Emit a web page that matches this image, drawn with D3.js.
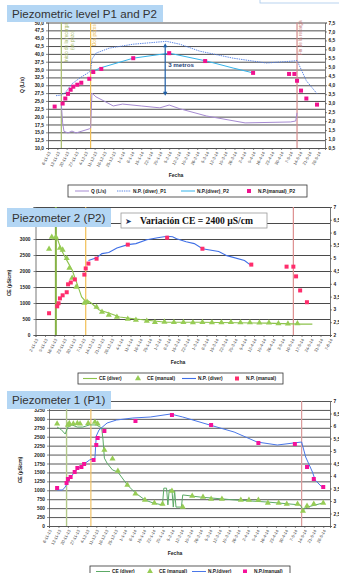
<!DOCTYPE html>
<html>
<head>
<meta charset="utf-8">
<script src="https://cdn.jsdelivr.net/npm/d3@7"></script>
<style>
  body { margin: 0; background: #fff; }
  svg { display: block; font-family: "Liberation Sans", Arial, sans-serif; }
</style>
</head>
<body>
<svg id="c" width="339" height="573"></svg>
<script>
const parse = d3.timeParse("%d-%m-%y");
const fmtDate = d3.timeFormat("%-d-%-m-%y");

// ---- chart 1 : Piezometric level P1 and P2 ----
const events1 = ["16-11-13", "8-12-13", "12-5-14"];
const q1 = [["16-11-13", 24], ["17-11-13", 18], ["18-11-13", 15.3], ["21-11-13", 14.8], ["24-11-13", 15.4],
  ["27-11-13", 14.8], ["7-12-13", 16.1], ["8-12-13", 16.4], ["9-12-13", 27.5], ["12-12-13", 26.3],
  ["18-12-13", 25], ["25-12-13", 23.4], ["1-1-14", 24], ["15-1-14", 23.4], ["29-1-14", 22.8],
  ["5-2-14", 23.7], ["13-2-14", 22.5], ["5-3-14", 20.2], ["3-4-14", 18], ["7-5-14", 18.3],
  ["11-5-14", 18.6], ["12-5-14", 21.2]];
const npDiverP1 = [["12-11-13", 3.42], ["16-11-13", 3.45], ["19-11-13", 3.59], ["24-11-13", 4.08],
  ["30-11-13", 4.41], ["6-12-13", 4.69], ["8-12-13", 4.8], ["9-12-13", 5.46], ["12-12-13", 5.79],
  ["22-12-13", 6.07], ["9-1-14", 6.29], ["3-2-14", 6.45], ["13-2-14", 6.29], ["28-2-14", 5.9],
  ["25-3-14", 5.51], ["19-4-14", 5.24], ["9-5-14", 5.35], ["12-5-14", 5.38], ["19-5-14", 4.25],
  ["27-5-14", 3.53]];
const npDiverP2 = [["8-12-13", 4.7], ["15-12-13", 4.96], ["9-1-14", 5.51], ["5-2-14", 5.79],
  ["5-3-14", 5.35], ["25-3-14", 4.96], ["9-4-14", 4.69]];
const npManualP2 = [["11-11-13", 2.81], ["17-11-13", 2.98], ["19-11-13", 3.26], ["21-11-13", 3.52],
  ["23-11-13", 3.75], ["25-11-13", 3.92], ["28-11-13", 4.03], ["1-12-13", 4.14], ["7-12-13", 4.36],
  ["10-12-13", 4.74], ["16-12-13", 4.91], ["9-1-14", 5.51], ["5-2-14", 5.79], ["4-3-14", 5.35],
  ["9-4-14", 4.69], ["6-5-14", 4.63], ["10-5-14", 4.63], ["12-5-14", 4.25], ["15-5-14", 3.7],
  ["19-5-14", 3.26], ["27-5-14", 2.92]];
const qTicks = d3.range(10, 50.01, 2.5);
const np1Ticks = d3.range(0.5, 7.51, 0.5);

// ---- chart 2 : Piezometer 2 (P2) ----
const events2 = ["17-11-13", "9-12-13", "11-5-14"];
const ceDiver2 = [["14-11-13", 3000], ["18-11-13", 3020], ["21-11-13", 2660], ["25-11-13", 2340],
  ["29-11-13", 2030], ["3-12-13", 1560], ["6-12-13", 1190], ["10-12-13", 1000], ["11-12-13", 1060],
  ["13-12-13", 1000], ["19-12-13", 780], ["26-12-13", 690], ["3-1-14", 560], ["15-1-14", 500],
  ["6-2-14", 400], ["3-3-14", 400], ["21-4-14", 370], ["16-5-14", 340], ["25-5-14", 340]];
const ceManual2 = [["12-11-13", 2690], ["14-11-13", 3060], ["17-11-13", 3060], ["20-11-13", 2720],
  ["22-11-13", 2660], ["25-11-13", 2400], ["27-11-13", 2090], ["29-11-13", 1780], ["2-12-13", 1500],
  ["8-12-13", 1000], ["10-12-13", 1030], ["17-12-13", 875], ["21-12-13", 720], ["26-12-13", 625],
  ["1-1-14", 560], ["9-1-14", 500], ["15-1-14", 470], ["23-1-14", 440], ["29-1-14", 400],
  ["5-2-14", 410], ["12-2-14", 400], ["19-2-14", 400], ["26-2-14", 390], ["5-3-14", 400],
  ["12-3-14", 390], ["19-3-14", 390], ["26-3-14", 400], ["2-4-14", 390], ["9-4-14", 390],
  ["16-4-14", 385], ["23-4-14", 380], ["30-4-14", 360], ["7-5-14", 355], ["14-5-14", 360]];
const npDiver2 = [["11-12-13", 4.91], ["17-12-13", 5.02], ["21-12-13", 5.18], ["26-12-13", 5.22],
  ["1-1-14", 5.4], ["9-1-14", 5.53], ["15-1-14", 5.57], ["23-1-14", 5.72], ["31-1-14", 5.8],
  ["7-2-14", 5.86], ["11-2-14", 5.84], ["14-2-14", 5.76], ["21-2-14", 5.64], ["27-2-14", 5.57],
  ["5-3-14", 5.37], ["17-3-14", 5.26], ["23-3-14", 5.1], ["5-4-14", 4.91], ["9-4-14", 4.75]];
const npManual2 = [["12-11-13", 2.85], ["18-11-13", 3.12], ["19-11-13", 3.24], ["20-11-13", 3.43],
  ["22-11-13", 3.55], ["25-11-13", 3.67], ["26-11-13", 3.98], ["28-11-13", 4.05], ["1-12-13", 4.17],
  ["8-12-13", 4.36], ["9-12-13", 4.6], ["11-12-13", 4.79], ["17-12-13", 4.98], ["9-1-14", 5.53],
  ["7-2-14", 5.8], ["5-3-14", 5.37], ["10-4-14", 4.75], ["6-5-14", 4.67], ["11-5-14", 4.67],
  ["13-5-14", 4.29], ["16-5-14", 3.74], ["21-5-14", 3.28]];
const ce2Ticks = d3.range(0, 4001, 500);
const np2Ticks = d3.range(2, 7.01, 0.5);

// ---- chart 3 : Piezometer 1 (P1) ----
const events3 = ["19-11-13", "7-12-13", "12-5-14"];
const ceDiver3 = [["12-11-13", 2770], ["15-11-13", 2700], ["18-11-13", 2575], ["20-11-13", 2770],
  ["23-11-13", 2830], ["27-11-13", 2770], ["1-12-13", 2770], ["6-12-13", 2830], ["11-12-13", 2830],
  ["15-12-13", 2745], ["16-12-13", 2410], ["17-12-13", 1900], ["19-12-13", 1760], ["23-12-13", 1570],
  ["27-12-13", 1510], ["3-1-14", 1150], ["9-1-14", 925], ["16-1-14", 730], ["22-1-14", 645],
  ["29-1-14", 590], ["30-1-14", 1060], ["1-2-14", 1060], ["2-2-14", 590], ["3-2-14", 1010],
  ["5-2-14", 1010], ["6-2-14", 530], ["7-2-14", 980], ["8-2-14", 530], ["12-2-14", 530],
  ["13-2-14", 870], ["26-2-14", 810], ["23-3-14", 730], ["17-4-14", 670], ["11-5-14", 590],
  ["13-5-14", 450], ["16-5-14", 530], ["28-5-14", 645]];
const ceManual3 = [["12-11-13", 2860], ["20-11-13", 2830], ["21-11-13", 2880], ["24-11-13", 2860],
  ["27-11-13", 2880], ["29-11-13", 2860], ["5-12-13", 2880], ["10-12-13", 2910], ["12-12-13", 2860],
  ["17-12-13", 2130], ["23-12-13", 1880], ["27-12-13", 1540], ["3-1-14", 1150], ["9-1-14", 900],
  ["16-1-14", 730], ["23-1-14", 645], ["29-1-14", 615], ["5-2-14", 980], ["13-2-14", 530],
  ["20-2-14", 840], ["28-2-14", 810], ["6-3-14", 755], ["14-3-14", 755], ["28-3-14", 730],
  ["3-4-14", 730], ["10-4-14", 730], ["17-4-14", 645], ["25-4-14", 645], ["1-5-14", 615],
  ["9-5-14", 615], ["13-5-14", 420], ["16-5-14", 560], ["21-5-14", 615], ["28-5-14", 645]];
const npDiver3 = [["12-11-13", 3.44], ["16-11-13", 3.44], ["18-11-13", 3.56], ["22-11-13", 3.96],
  ["27-11-13", 4.28], ["2-12-13", 4.48], ["6-12-13", 4.64], ["10-12-13", 4.72], ["11-12-13", 5.6],
  ["13-12-13", 5.84], ["19-12-13", 6.12], ["26-12-13", 6.24], ["7-1-14", 6.32], ["20-1-14", 6.36],
  ["4-2-14", 6.48], ["13-2-14", 6.36], ["5-3-14", 6.04], ["23-3-14", 5.76], ["9-4-14", 5.36],
  ["24-4-14", 5.24], ["6-5-14", 5.32], ["12-5-14", 5.36], ["15-5-14", 4.76], ["20-5-14", 4.16],
  ["22-5-14", 3.84], ["27-5-14", 3.56]];
const npManual3 = [["12-11-13", 3.52], ["19-11-13", 3.72], ["20-11-13", 3.88], ["22-11-13", 3.96],
  ["25-11-13", 4.16], ["27-11-13", 4.32], ["30-11-13", 4.36], ["2-12-13", 4.48], ["9-12-13", 4.64],
  ["11-12-13", 5.24], ["12-12-13", 5.52], ["17-12-13", 5.8], ["9-1-14", 6.2], ["5-2-14", 6.44],
  ["6-3-14", 6.04], ["10-4-14", 5.32], ["7-5-14", 5.28], ["16-5-14", 4.36], ["21-5-14", 3.88],
  ["28-5-14", 3.56]];
const ce3Ticks = d3.range(0, 3501, 250);
const np3Ticks = d3.range(2, 7.01, 0.5);

const weeks1 = d3.timeDay.range(parse("6-11-13"), parse("29-5-14"), 7);
const weeks2 = d3.timeDay.range(parse("2-11-13"), parse("8-6-14"), 7);

const svg = d3.select("#c");
const dec1 = v => d3.format(".1f")(v).replace(".", ",");
const dec0 = v => String(v).replace(".", ",");

function drawChart(o) {
  const g = svg.append("g");
  const x = d3.scaleTime().domain([parse(o.x0), parse(o.x1)]).range([o.left, o.right]);
  const yL = d3.scaleLinear().domain(d3.extent(o.leftTicks)).range([o.bottom, o.top]);
  const yR = d3.scaleLinear().domain(d3.extent(o.rightTicks)).range([o.bottom, o.top]);
  const w = o.right - o.left;

  // grid
  g.append("g")
    .attr("transform", `translate(${o.left},0)`)
    .call(d3.axisLeft(yL).tickValues(o.leftTicks).tickSize(-w).tickFormat(""))
    .call(a => a.select(".domain").remove())
    .selectAll("line").attr("stroke", o.grid).attr("stroke-width", o.gridW);

  const style = a => {
    a.attr("font-family", null);
    a.select(".domain").attr("stroke", "#555").attr("stroke-width", 0.8);
    a.selectAll(".tick line").attr("stroke", "#555").attr("stroke-width", 0.7);
    a.selectAll("text").attr("font-size", 4.8).attr("font-weight", "bold").attr("fill", "#222");
  };
  g.append("g").attr("transform", `translate(${o.left},0)`)
    .call(d3.axisLeft(yL).tickValues(o.leftTicks).tickSize(2).tickPadding(o.lPad).tickFormat(o.lFmt))
    .call(style);
  g.append("g").attr("transform", `translate(${o.right},0)`)
    .call(d3.axisRight(yR).tickValues(o.rightTicks).tickSize(2).tickPadding(1.5).tickFormat(o.rFmt))
    .call(style);
  const xa = g.append("g").attr("transform", `translate(0,${o.bottom})`)
    .call(d3.axisBottom(x).tickValues(o.xTicks).tickSize(2).tickFormat(fmtDate))
    .call(style);
  xa.selectAll("text").attr("font-size", 4.2).attr("font-weight", "normal").attr("fill", "#444")
    .attr("y", 0).attr("dy", "0.35em").attr("text-anchor", "end")
    .attr("transform", "translate(1,4) rotate(-62)");

  // event lines
  o.events.forEach((e, i) => {
    g.append("line")
      .attr("x1", x(parse(e))).attr("x2", x(parse(e)))
      .attr("y1", o.top).attr("y2", o.bottom)
      .attr("stroke", o.evColors[i]).attr("stroke-width", o.evW[i]);
  });

  // series
  o.series.forEach(s => {
    const y = s.axis === "r" ? yR : yL;
    const pts = s.data.map(d => [x(parse(d[0])), y(d[1])]);
    if (s.type === "line") {
      g.append("path").attr("d", d3.line()(pts)).attr("fill", "none")
        .attr("stroke", s.color).attr("stroke-width", s.w)
        .attr("stroke-dasharray", s.dash || null);
    } else if (s.type === "sq") {
      g.append("g").selectAll("rect").data(pts).join("rect")
        .attr("x", p => p[0] - 2).attr("y", p => p[1] - 2)
        .attr("width", 4).attr("height", 4).attr("fill", s.color);
    } else {
      g.append("g").selectAll("path").data(pts).join("path")
        .attr("d", d3.symbol(d3.symbolTriangle, 16)())
        .attr("transform", p => `translate(${p[0]},${p[1]})`)
        .attr("fill", s.color);
    }
  });

  // y title and "Fecha"
  g.append("text").attr("transform", `translate(${o.yTitle[0]},${o.yTitle[1]}) rotate(-90)`)
    .attr("text-anchor", "middle").attr("font-size", 5).attr("font-weight", "bold")
    .attr("fill", "#222").text(o.yTitleText);
  g.append("text").attr("x", o.fecha[0]).attr("y", o.fecha[1])
    .attr("text-anchor", "middle").attr("font-size", 5).attr("font-weight", "bold")
    .attr("fill", "#222").text("Fecha");

  // legend
  const L = o.legend;
  g.append("rect").attr("x", L.x).attr("y", L.y).attr("width", L.w).attr("height", L.h)
    .attr("fill", "#fff").attr("stroke", "#333").attr("stroke-width", 0.8);
  const cy = L.y + L.h / 2;
  L.items.forEach(it => {
    const s = o.series[it.s];
    if (s.type === "line") {
      g.append("line").attr("x1", it.x).attr("x2", it.x + 14).attr("y1", cy).attr("y2", cy)
        .attr("stroke", s.color).attr("stroke-width", s.w).attr("stroke-dasharray", s.dash || null);
    } else if (s.type === "sq") {
      g.append("rect").attr("x", it.x + 5).attr("y", cy - 2).attr("width", 4).attr("height", 4)
        .attr("fill", s.color);
    } else {
      g.append("path").attr("d", d3.symbol(d3.symbolTriangle, 16)())
        .attr("transform", `translate(${it.x + 7},${cy})`).attr("fill", s.color);
    }
    g.append("text").attr("x", it.x + 16).attr("y", cy).attr("dy", "0.35em")
      .attr("font-size", 4.8).attr("font-weight", "bold").attr("fill", "#222").text(it.t);
  });
  return { g, x, yL, yR };
}

function titleBox(x, y, w, h, t) {
  svg.append("rect").attr("x", x).attr("y", y).attr("width", w).attr("height", h).attr("fill", "#b3d6f4");
  svg.append("text").attr("x", x + 5).attr("y", y + h / 2).attr("dy", "0.36em")
    .attr("font-size", 11.6).attr("fill", "#333").text(t);
}

// top right stray box
svg.append("rect").attr("x", 260).attr("y", -10).attr("width", 90).attr("height", 13)
  .attr("fill", "#fff").attr("stroke", "#a9c8ea").attr("stroke-width", 0.8);

// ---------- chart 1 ----------
const c1 = drawChart({
  x0: "6-11-13", x1: "2-6-14", left: 48, right: 325, top: 22.5, bottom: 148,
  leftTicks: qTicks, rightTicks: np1Ticks, lFmt: dec1, rFmt: dec1, lPad: 2,
  xTicks: weeks1, grid: "#3a3a3a", gridW: 0.9,
  events: events1, evColors: ["#a7bb6c", "#f1bf55", "#d48a8a"], evW: [1.2, 1.2, 1.2],
  series: [
    { type: "line", data: q1, axis: "l", color: "#a68bd2", w: 1 },
    { type: "line", data: npDiverP1, axis: "r", color: "#4c7be2", w: 0.9, dash: "1.4,0.9" },
    { type: "line", data: npDiverP2, axis: "r", color: "#34b3ea", w: 1 },
    { type: "sq", data: npManualP2, axis: "r", color: "#f0128e" }
  ],
  yTitle: [24, 85], yTitleText: "Q (L/s)", fecha: [176, 177],
  legend: { x: 68, y: 185, w: 239, h: 12, items: [
    { s: 0, x: 75, t: "Q (L/s)" }, { s: 1, x: 117, t: "N.P. (diver)_P1" },
    { s: 2, x: 181, t: "N.P.(diver)_P2" }, { s: 3, x: 242, t: "N.P.(manual)_P2" } ] }
});

// event labels chart 1
[["Inicio de la recarga", 0, 67.5, 62, "#a0b55a"], ["(un pozo)", 0, 73.5, 50, "#a0b55a"],
 ["Dos pozos", 1, 96, 46, "#e8b133"], ["Fin de la recarga", 2, 302, 55, "#c47474"]].forEach(d => {
  c1.g.append("text").attr("transform", `translate(${d[2]},${d[3]}) rotate(-90)`)
    .attr("font-size", 4.6).attr("fill", d[4]).text(d[0]);
});

// 3 metros arrow
{
  const ax = c1.x(parse("2-2-14"));
  const y1 = c1.yR(6.45) + 2, y2 = c1.yR(3.42);
  const col = "#1f5fa8";
  c1.g.append("line").attr("x1", ax).attr("x2", ax).attr("y1", y1 + 3).attr("y2", y2 - 3)
    .attr("stroke", col).attr("stroke-width", 1.2);
  c1.g.append("path").attr("d", `M${ax},${y1}l-2.2,4h4.4z M${ax},${y2}l-2.2,-4h4.4z`).attr("fill", col);
  c1.g.append("text").attr("x", ax + 3).attr("y", c1.yR(5.0)).attr("font-size", 6.2)
    .attr("font-weight", "bold").attr("fill", "#1f3f78").text("3 metros");
}
titleBox(7, 5, 156, 17, "Piezometric level P1 and P2");

// ---------- chart 2 ----------
drawChart({
  x0: "2-11-13", x1: "7-6-14", left: 35.5, right: 330, top: 207, bottom: 335,
  leftTicks: ce2Ticks, rightTicks: np2Ticks, lFmt: d => d >= 3500 ? "" : d, rFmt: dec0, lPad: 3,
  xTicks: weeks2, grid: "#4a4a4a", gridW: 1,
  events: events2, evColors: ["#86b245", "#f1bf55", "#dd8f8f"], evW: [2, 1.2, 1.2],
  series: [
    { type: "line", data: ceDiver2, axis: "l", color: "#8dc24c", w: 1.1 },
    { type: "tri", data: ceManual2, axis: "l", color: "#97cc55" },
    { type: "line", data: npDiver2, axis: "r", color: "#3f6fe6", w: 1.1 },
    { type: "sq", data: npManual2, axis: "r", color: "#ff2d6c" }
  ],
  yTitle: [11, 283], yTitleText: "CE (µS/cm)", fecha: [178, 364],
  legend: { x: 78, y: 373, w: 205, h: 11, items: [
    { s: 0, x: 83, t: "CE (diver)" }, { s: 1, x: 131, t: "CE (manual)" },
    { s: 2, x: 182, t: "N.P. (diver)" }, { s: 3, x: 230, t: "N.P. (manual)" } ] }
});
titleBox(7, 208, 104, 19, "Piezometer 2 (P2)");
svg.append("rect").attr("x", 121).attr("y", 213).attr("width", 146).attr("height", 15)
  .attr("fill", "#fff").attr("stroke", "#9a9a9a").attr("stroke-width", 0.8);
svg.append("text").attr("x", 125).attr("y", 221).attr("dy", "0.35em").attr("font-size", 8)
  .attr("font-family", "DejaVu Sans").attr("fill", "#1f3864").text("➤");
svg.append("text").attr("x", 140).attr("y", 221).attr("dy", "0.35em").attr("font-size", 9.6)
  .attr("font-family", "Liberation Serif").attr("font-weight", "bold").attr("fill", "#111")
  .text("Variación CE = 2400 µS/cm");

// ---------- chart 3 ----------
drawChart({
  x0: "6-11-13", x1: "2-6-14", left: 49, right: 330, top: 401, bottom: 526,
  leftTicks: ce3Ticks, rightTicks: np3Ticks, lFmt: d => d >= 3500 ? "" : d, rFmt: dec0, lPad: 2,
  xTicks: weeks1, grid: "#444", gridW: 0.9,
  events: events3, evColors: ["#b3c98a", "#f1c36a", "#d99a9a"], evW: [1.4, 1.2, 1.2],
  series: [
    { type: "line", data: ceDiver3, axis: "l", color: "#5caa66", w: 1 },
    { type: "tri", data: ceManual3, axis: "l", color: "#97cc55" },
    { type: "line", data: npDiver3, axis: "r", color: "#4a77e8", w: 1 },
    { type: "sq", data: npManual3, axis: "r", color: "#f5129a" }
  ],
  yTitle: [22, 470], yTitleText: "CE (µS/cm)", fecha: [175, 555],
  legend: { x: 90, y: 566, w: 200, h: 11, items: [
    { s: 0, x: 96, t: "CE (diver)" }, { s: 1, x: 143, t: "CE (manual)" },
    { s: 2, x: 192, t: "N.P.(diver)" }, { s: 3, x: 238, t: "N.P.(manual)" } ] }
});
titleBox(7, 391, 104, 18, "Piezometer 1 (P1)");
</script>
</body>
</html>
